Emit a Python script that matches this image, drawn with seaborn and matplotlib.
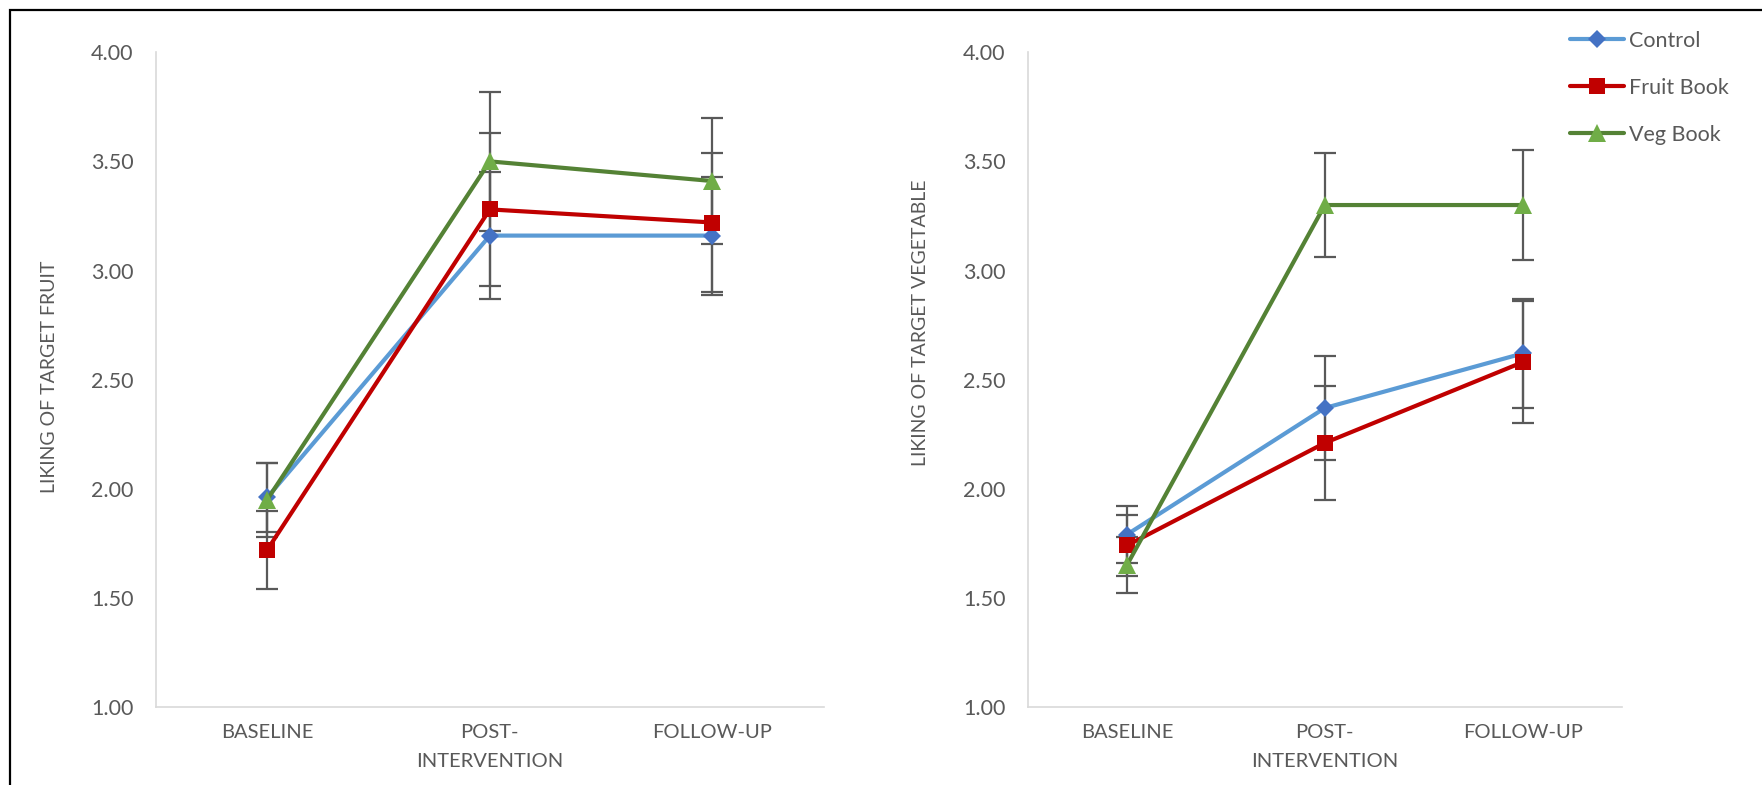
import numpy as np
import pandas as pd
import matplotlib
matplotlib.use("Agg")
import matplotlib.pyplot as plt
import seaborn as sns
from matplotlib.lines import Line2D
from matplotlib.patches import Rectangle
from matplotlib.ticker import FormatStrFormatter

# Categories and groups
timepoints = ["BASELINE", "POST-\nINTERVENTION", "FOLLOW-UP"]
groups = ["Control", "Fruit Book", "Veg Book"]

# Liking of target fruit (means and error bar half-widths)
fruit_control = [1.96, 3.16, 3.16]
fruit_fruitbook = [1.72, 3.28, 3.22]
fruit_vegbook = [1.95, 3.50, 3.41]
fruit_control_err = [0.16, 0.29, 0.27]
fruit_fruitbook_err = [0.18, 0.35, 0.32]
fruit_vegbook_err = [0.17, 0.32, 0.29]

# Liking of target vegetable
veg_control = [1.79, 2.37, 2.62]
veg_fruitbook = [1.74, 2.21, 2.58]
veg_vegbook = [1.65, 3.30, 3.30]
veg_control_err = [0.13, 0.24, 0.25]
veg_fruitbook_err = [0.14, 0.26, 0.28]
veg_vegbook_err = [0.13, 0.24, 0.25]

# Styles
line_colors = {"Control": "#5B9BD5", "Fruit Book": "#C00000", "Veg Book": "#548235"}
marker_colors = {"Control": "#4472C4", "Fruit Book": "#C00000", "Veg Book": "#70AD47"}
markers = {"Control": "D", "Fruit Book": "s", "Veg Book": "^"}
marker_sizes = {"Control": 9, "Fruit Book": 12, "Veg Book": 13}
text_color = "#595959"


def build_frame(vals, errs):
    rows = []
    for g, v, e in zip(groups, vals, errs):
        for i, t in enumerate(timepoints):
            rows.append({"group": g, "pos": i, "time": t, "liking": v[i], "err": e[i]})
    return pd.DataFrame(rows)


df_fruit = build_frame([fruit_control, fruit_fruitbook, fruit_vegbook],
                       [fruit_control_err, fruit_fruitbook_err, fruit_vegbook_err])
df_veg = build_frame([veg_control, veg_fruitbook, veg_vegbook],
                     [veg_control_err, veg_fruitbook_err, veg_vegbook_err])

sns.set_style("white")
plt.rcParams["font.family"] = ["Lato", "DejaVu Sans"]

fig = plt.figure(figsize=(17.62, 7.85), dpi=100)
ax1 = fig.add_axes([0.0885, 0.0994, 0.379, 0.834])
ax2 = fig.add_axes([0.5834, 0.0994, 0.337, 0.834])


def draw_panel(ax, df, ylabel, label_x, label_y):
    for g in groups:
        sub = df[df["group"] == g]
        ax.errorbar(sub["pos"], sub["liking"], yerr=sub["err"], fmt="none",
                    ecolor=text_color, elinewidth=1.6, capsize=8, capthick=1.6, zorder=1)
        sns.lineplot(data=sub, x="pos", y="liking", color=line_colors[g], linewidth=3,
                     marker=markers[g], markersize=marker_sizes[g],
                     markerfacecolor=marker_colors[g], markeredgecolor=marker_colors[g],
                     markeredgewidth=0, sort=False, ax=ax, zorder=2)
    ax.set_xlim(-0.5, 2.5)
    ax.set_ylim(1, 4)
    ax.set_yticks(np.arange(1, 4.01, 0.5))
    ax.yaxis.set_major_formatter(FormatStrFormatter("%.2f"))
    ax.set_xticks(range(len(timepoints)))
    ax.set_xticklabels(timepoints, fontsize=14.5, color=text_color, linespacing=1.9)
    ax.tick_params(axis="y", length=0, pad=16, labelsize=15.5, labelcolor=text_color)
    ax.tick_params(axis="x", length=0, pad=12)
    ax.set_xlabel("")
    ax.set_ylabel(ylabel, fontsize=14, color=text_color)
    ax.yaxis.set_label_coords(label_x, label_y)
    for s in ["top", "right"]:
        ax.spines[s].set_visible(False)
    for s in ["left", "bottom"]:
        ax.spines[s].set_color("#D9D9D9")
        ax.spines[s].set_linewidth(1.2)
    ax.grid(False)


draw_panel(ax1, df_fruit, "LIKING OF TARGET FRUIT", -0.147, 0.505)
draw_panel(ax2, df_veg, "LIKING OF TARGET VEGETABLE", -0.166, 0.587)

# Legend
handles = [Line2D([0], [0], color=line_colors[g], linewidth=3, marker=markers[g],
                  markersize=marker_sizes[g], markerfacecolor=marker_colors[g],
                  markeredgewidth=0) for g in groups]
leg = fig.legend(handles, groups, loc="upper left", bbox_to_anchor=(0.8911, 0.961),
                 frameon=False, fontsize=15.5, handlelength=2.5, handletextpad=0.25,
                 labelspacing=1.26, borderpad=0, borderaxespad=0, numpoints=1)
for t in leg.get_texts():
    t.set_color(text_color)

# Outer border (image is cropped from a framed figure)
fig.patches.append(Rectangle((10 / 1762, -0.1), 1.2, 1.1 - 10 / 785, transform=fig.transFigure,
                             fill=False, edgecolor="black", linewidth=1.6, figure=fig))

fig.savefig("out.png", dpi=100)
